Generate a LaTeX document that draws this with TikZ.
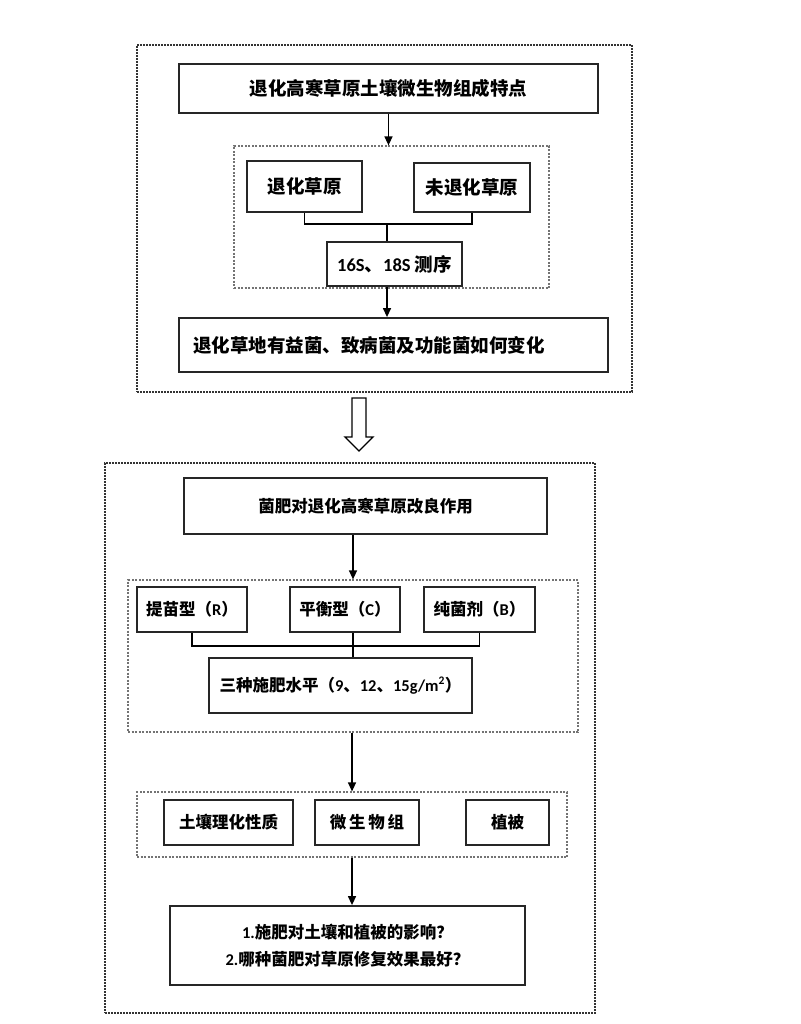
\documentclass[tikz,border=0pt]{standalone}
\usepackage{fontspec}
\setmainfont{Noto Sans CJK SC}
\newfontfamily\lat{Carlito}
\usetikzlibrary{arrows.meta}
\tikzset{
  every node/.style={inner sep=0pt, font=\fontsize{18.5}{27}\selectfont\bfseries},
  small/.style={font=\fontsize{16.5}{27}\selectfont\bfseries},
  box/.style={draw=black!85, line width=1.8pt, rectangle, align=center},
  outerbox/.style={draw=black!80, line width=2pt, dash pattern=on 1.6pt off 1.4pt},
  groupbox/.style={draw=black!55, line width=1.2pt, dash pattern=on 2pt off 1.5pt},
  conn/.style={draw=black, line width=1.3pt},
  arr/.style={conn, -{Triangle[length=9pt,width=8pt]}},
}
\begin{document}
\begin{tikzpicture}[x=1pt, y=-1pt]
\useasboundingbox (0,0) rectangle (800,1024);
% ---------- part 1 ----------
\node[outerbox, minimum width=495pt, minimum height=347pt] (o1) at (384.5,218.5) {};
\node[groupbox, minimum width=315pt, minimum height=142pt] (g1) at (391.5,217) {};
\node[box, minimum width=419pt, minimum height=49pt] (t1) at (388.5,88.5) {退化高寒草原土壤微生物组成特点};
\node[box, minimum width=115pt, minimum height=51pt] (a) at (304.5,186.5) {退化草原};
\node[box, minimum width=116pt, minimum height=49pt] (b) at (472,187.5) {未退化草原};
\node[box, minimum width=135pt, minimum height=44pt] (s) at (394.5,264) {{\lat 16S}、{\lat 18S} 测序};
\node[box, minimum width=429pt, minimum height=54pt, text width=401pt, align=left] (d1) at (393.5,345) {退化草地有益菌、致病菌及功能菌如何变化};
\coordinate (j1) at (387,224);
\draw[arr] (t1.south) -- (t1.south |- g1.north);
\draw[conn] (a.south) |- (j1) -| (b.south);
\draw[conn] (j1) -- (j1 |- s.north);
\draw[arr] (j1 |- s.south) -- (j1 |- d1.north);
% ---------- hollow arrow ----------
\draw[line width=1.3pt, fill=white, line join=miter]
  (352,398) -- (366,398) -- (366,437) -- (373,437) -- (359,451) -- (345,437) -- (352,437) -- cycle;
% ---------- part 2 ----------
\node[outerbox, minimum width=490pt, minimum height=550pt] (o2) at (350,738) {};
\node[groupbox, minimum width=450pt, minimum height=152pt] (g2) at (353,656) {};
\node[groupbox, minimum width=430pt, minimum height=65pt] (g3) at (352,824.5) {};
\node[box, small, minimum width=363pt, minimum height=56pt] (m) at (365.5,506) {菌肥对退化高寒草原改良作用};
\node[box, small, minimum width=110pt, minimum height=45pt] (r) at (192,609.5) {提苗型（{\lat R}）};
\node[box, small, minimum width=110pt, minimum height=45pt] (c) at (345,609.5) {平衡型（{\lat C}）};
\node[box, small, minimum width=111pt, minimum height=45pt] (bb) at (479.5,609.5) {纯菌剂（{\lat B}）};
\node[box, small, minimum width=263pt, minimum height=55pt] (lev) at (340.5,685.5) {三种施肥水平（{\lat 9}、{\lat 12}、{\lat 15g/m\textsuperscript{2}}）};
\node[box, small, minimum width=129pt, minimum height=45pt] (soil) at (228.5,822.5) {土壤理化性质};
\node[box, small, minimum width=104pt, minimum height=45pt] (mic) at (367,822.5) {微\,生\,物\,组};
\node[box, small, minimum width=83pt, minimum height=45pt] (veg) at (507.5,822.5) {植被};
\node[box, small, minimum width=355pt, minimum height=79pt] (q) at (347.5,945.5) {{\lat 1.}施肥对土壤和植被的影响？\\{\lat 2.}哪种菌肥对草原修复效果最好？};
\coordinate (j2) at (353,646);
\draw[arr] (g2.north |- m.south) -- (g2.north);
\draw[conn] (r.south) |- (j2) -| (bb.south);
\draw[conn] (j2 |- c.south) -- (j2 |- lev.north);
\draw[arr] (g3.north |- g2.south) -- (g3.north);
\draw[arr] (g3.south) -- (g3.south |- q.north);
\end{tikzpicture}
\end{document}
